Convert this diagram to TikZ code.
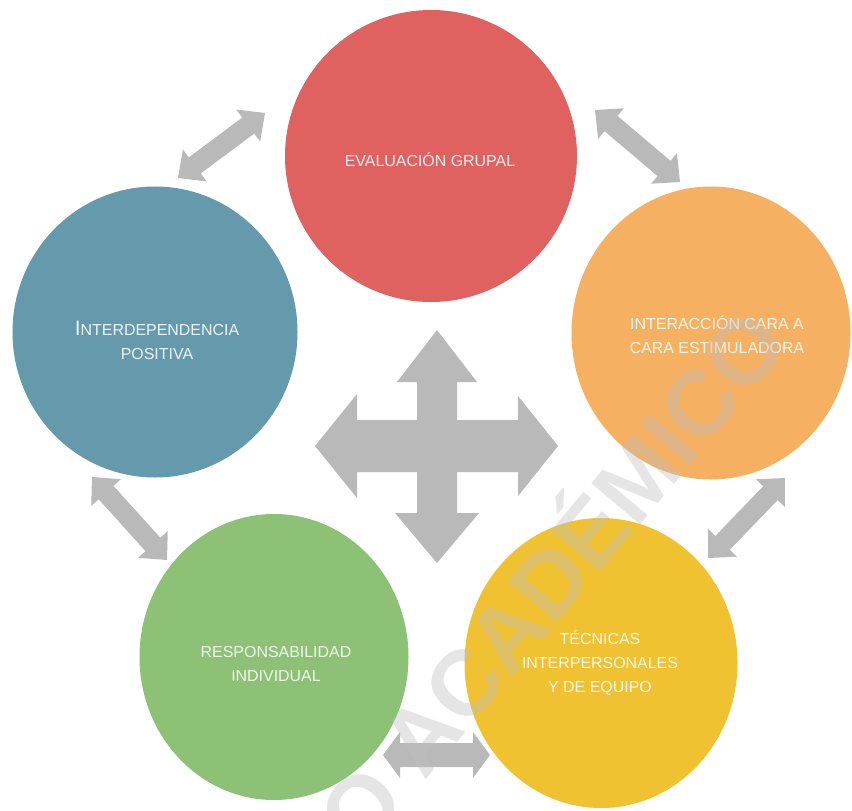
\documentclass[tikz,border=0pt]{standalone}
\usepackage{fontspec}
\setmainfont{Liberation Sans}
\usetikzlibrary{calc,shapes.geometric}
\definecolor{cred}{HTML}{E06260}
\definecolor{corange}{HTML}{F6B062}
\definecolor{cblue}{HTML}{659AAD}
\definecolor{cgreen}{HTML}{8CC176}
\definecolor{cyellow}{HTML}{F0C232}
\definecolor{cgray}{HTML}{B9B9B9}
\definecolor{wmgray}{HTML}{BEBEBE}
\tikzset{
  bubble/.style={ellipse, inner sep=0pt, draw=none},
  lbl/.style={align=center, text=white, text opacity=0.88, font=\fontsize{16}{24}\selectfont},
  arrowfill/.style={fill=cgray, draw=none},
}
\newcommand{\dblarrow}[5]{%
  \fill[arrowfill] (#1)
    -- ($(#1)!#5!(#2)!#4!90:(#2)$)
    -- ($(#1)!#5!(#2)!#3!90:(#2)$)
    -- ($(#2)!#5!(#1)!#3!-90:(#1)$)
    -- ($(#2)!#5!(#1)!#4!-90:(#1)$)
    -- (#2)
    -- ($(#2)!#5!(#1)!#4!90:(#1)$)
    -- ($(#2)!#5!(#1)!#3!90:(#1)$)
    -- ($(#1)!#5!(#2)!#3!-90:(#2)$)
    -- ($(#1)!#5!(#2)!#4!-90:(#2)$)
    -- cycle;}
\begin{document}
\begin{tikzpicture}[x=1bp,y=-1bp]
\useasboundingbox (0,0) rectangle (852,811);
\fill[white] (0,0) rectangle (852,811);

% circles
\node[bubble, fill=cred,    minimum width=292bp, minimum height=292bp] (red)    at (431,156) {};
\node[bubble, fill=corange, minimum width=279bp, minimum height=293bp] (orange) at (711,333) {};
\node[bubble, fill=cblue,   minimum width=285bp, minimum height=291bp] (blue)   at (155,332) {};
\node[bubble, fill=cgreen,  minimum width=269bp, minimum height=286bp] (green)  at (274,657) {};
\node[bubble, fill=cyellow, minimum width=273bp, minimum height=290bp] (yellow) at (601,663) {};

% connector end points
\coordinate (a1s) at (178,178); \coordinate (a1e) at (265,113);
\coordinate (a2s) at (595,110); \coordinate (a2e) at (680,182);
\coordinate (a3s) at (92,477);  \coordinate (a3e) at (167,560);
\coordinate (a4s) at (785,478); \coordinate (a4e) at (708,558);
\coordinate (a5s) at (383,755); \coordinate (a5e) at (490,755);

\dblarrow{a1s}{a1e}{10bp}{20bp}{21bp}
\dblarrow{a2s}{a2e}{10bp}{20bp}{21bp}
\dblarrow{a3s}{a3e}{10bp}{20bp}{21bp}
\dblarrow{a4s}{a4e}{10bp}{20bp}{21bp}
\dblarrow{a5s}{a5e}{12bp}{23bp}{17bp}

% central four-way arrow
\fill[arrowfill] (437,330) -- (477,382) -- (457,382) -- (457,420) -- (518,420) -- (518,396)
  -- (558,446) -- (518,496) -- (518,472) -- (457,472) -- (457,513) -- (479,513)
  -- (437,563) -- (395,513) -- (417,513) -- (417,472) -- (357,472) -- (357,498)
  -- (315,446) -- (357,394) -- (357,420) -- (417,420) -- (417,382) -- (397,382) -- cycle;

% labels
\node[lbl] (tred)    at (430,160) {EVALUACIÓN GRUPAL};
\node[lbl] (torange) at (717,335) {INTERACCIÓN CARA A\\CARA ESTIMULADORA};
\node[lbl] (tblue)   at (157,340) {{\fontsize{21}{24}\selectfont I}NTERDEPENDENCIA\\POSITIVA};
\node[lbl] (tgreen)  at (276,664) {RESPONSABILIDAD\\INDIVIDUAL};
\node[lbl] (tyellow) at (600,663) {TÉCNICAS\\INTERPERSONALES\\Y DE EQUIPO};

% watermark
\node[rotate=50, text=wmgray, text opacity=0.4, font=\bfseries\fontsize{93}{93}\selectfont] (wm) at (546,574) {O ACADÉMICO};
\end{tikzpicture}
\end{document}
